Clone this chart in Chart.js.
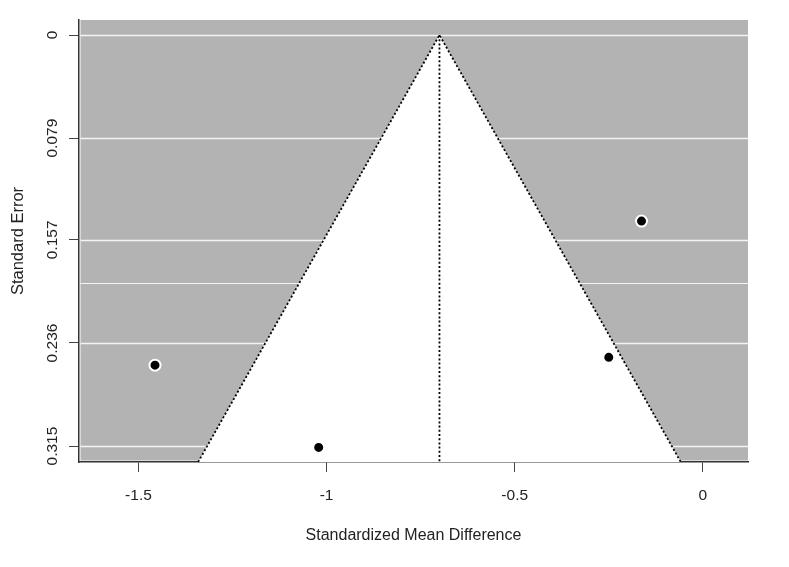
<!DOCTYPE html>
<html><head><meta charset="utf-8">
<script src="https://cdn.jsdelivr.net/npm/chart.js@4/dist/chart.umd.min.js"></script>
<style>html,body{margin:0;padding:0;background:#fff}#wrap{width:789px;height:567px;position:relative}</style>
</head><body><div id="wrap"><canvas id="c"></canvas></div>
<script>
// ---- data ----
const studyEffects = [-1.456, -1.021, -0.163, -0.250];
const studySE = [0.253, 0.316, 0.1426, 0.247];
const pooledEstimate = -0.70;
const zCrit = 1.96;
const xTicks = [-1.5, -1, -0.5, 0];
const xTickLabels = ['-1.5', '-1', '-0.5', '0'];
const yTicks = [0, 0.079, 0.157, 0.236, 0.315];
const yTickLabels = ['0', '0.079', '0.157', '0.236', '0.315'];
const extraHLines = [0.19];
const xRange = [-1.658, 0.120];
const yRange = [-0.0115, 0.3272];
const xTitle = 'Standardized Mean Difference';
const yTitle = 'Standard Error';

const FONT = "'Liberation Sans', Arial, sans-serif";
const seMax = yRange[1];
const points = studyEffects.map((x, i) => ({x: x, y: studySE[i]}));
const funnelLine = [
  {x: pooledEstimate - zCrit * seMax, y: seMax},
  {x: pooledEstimate, y: 0},
  {x: pooledEstimate + zCrit * seMax, y: seMax}
];
const centerLine = [{x: pooledEstimate, y: 0}, {x: pooledEstimate, y: seMax}];

const backgroundPlugin = {
  id: 'funnelBg',
  beforeDatasetsDraw(chart) {
    const {ctx, chartArea: a, scales: {x, y}} = chart;
    ctx.save();
    ctx.fillStyle = '#b3b3b3';
    ctx.fillRect(a.left + 1.5, a.top, a.right - a.left - 1.5, a.bottom - a.top - 1.5);
    ctx.strokeStyle = '#f4f4f4';
    yTicks.concat(extraHLines).forEach((v, i) => {
      const py = Math.round(y.getPixelForValue(v)) + 0.5;
      ctx.lineWidth = i < yTicks.length ? 1.6 : 1.1;
      ctx.beginPath();
      ctx.moveTo(a.left + 1.5, py);
      ctx.lineTo(a.right, py);
      ctx.stroke();
    });
    ctx.fillStyle = '#ffffff';
    ctx.beginPath();
    funnelLine.forEach((p, i) => {
      const px = x.getPixelForValue(p.x), py = y.getPixelForValue(p.y);
      if (i === 0) ctx.moveTo(px, py); else ctx.lineTo(px, py);
    });
    ctx.closePath();
    ctx.fill();
    ctx.restore();
  },
  afterDraw(chart) {
    const {ctx, chartArea: a, scales: {x, y}} = chart;
    ctx.save();
    ctx.fillStyle = '#222';
    ctx.font = '15.5px ' + FONT;
    ctx.textAlign = 'center';
    ctx.textBaseline = 'alphabetic';
    yTicks.forEach((v, i) => {
      const py = y.getPixelForValue(v);
      ctx.save();
      ctx.translate(57, py);
      ctx.rotate(-Math.PI / 2);
      ctx.fillText(yTickLabels[i], 0, 0);
      ctx.restore();
    });
    ctx.font = '16.5px ' + FONT;
    ctx.save();
    ctx.translate(23, (a.top + a.bottom) / 2);
    ctx.rotate(-Math.PI / 2);
    ctx.fillText(yTitle, 0, 0);
    ctx.restore();
    ctx.font = '16px ' + FONT;
    ctx.fillText(xTitle, (a.left + a.right) / 2, 540);
    ctx.restore();
  }
};

new Chart(document.getElementById('c'), {
  type: 'scatter',
  data: {
    datasets: [
      {
        data: points,
        pointRadius: 5.5,
        pointBackgroundColor: '#000',
        pointBorderColor: '#fff',
        pointBorderWidth: 2,
        pointHoverRadius: 5.5
      },
      {
        data: funnelLine,
        showLine: true,
        borderColor: '#000',
        borderWidth: 1.8,
        borderDash: [2, 2.2],
        pointRadius: 0,
        fill: false
      },
      {
        data: centerLine,
        showLine: true,
        borderColor: '#000',
        borderWidth: 1.8,
        borderDash: [2, 2.2],
        pointRadius: 0,
        fill: false
      }
    ]
  },
  options: {
    responsive: true,
    maintainAspectRatio: false,
    animation: false,
    events: [],
    layout: {padding: {left: 0, top: 20, right: 41, bottom: 0}},
    plugins: {legend: {display: false}, tooltip: {enabled: false}},
    scales: {
      x: {
        type: 'linear',
        min: xRange[0],
        max: xRange[1],
        afterBuildTicks: s => { s.ticks = xTicks.map(v => ({value: v})); },
        afterFit: s => { s.height = 105; },
        ticks: {
          callback: v => { const i = xTicks.indexOf(v); return i >= 0 ? xTickLabels[i] : ''; },
          font: {family: FONT, size: 15.5},
          color: '#222',
          padding: 14,
          maxRotation: 0,
          autoSkip: false
        },
        grid: {display: true, drawOnChartArea: false, drawTicks: true, tickLength: 10, color: '#444', lineWidth: 1},
        border: {display: true, color: '#333', width: 1.5}
      },
      y: {
        type: 'linear',
        reverse: true,
        min: yRange[0],
        max: yRange[1],
        afterBuildTicks: s => { s.ticks = yTicks.map(v => ({value: v})); },
        afterFit: s => { s.width = 79; },
        ticks: {display: false},
        grid: {display: true, drawOnChartArea: false, drawTicks: true, tickLength: 10, color: '#444', lineWidth: 1},
        border: {display: true, color: '#333', width: 1.5}
      }
    }
  },
  plugins: [backgroundPlugin]
});
</script>
</body></html>
